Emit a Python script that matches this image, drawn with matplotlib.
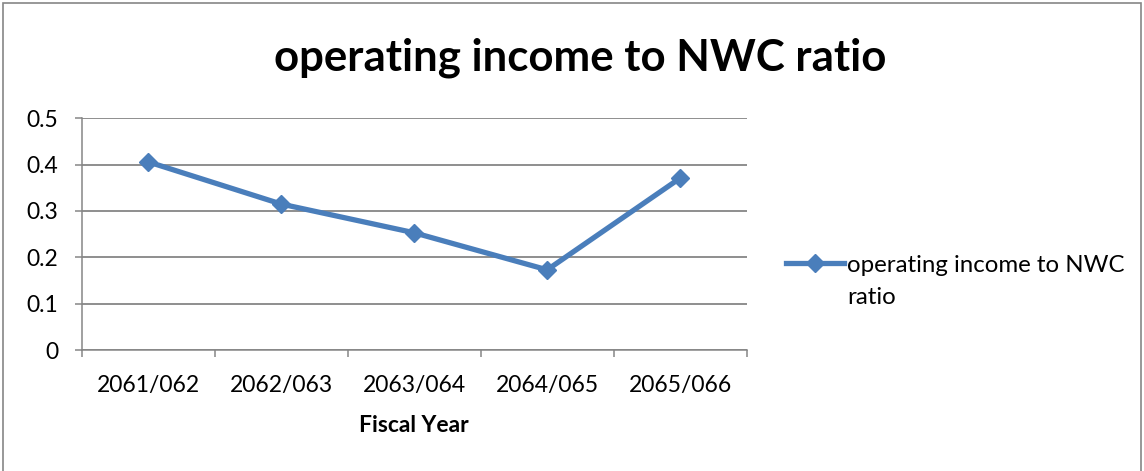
import matplotlib.pyplot as plt
from matplotlib.patches import Rectangle
from matplotlib.lines import Line2D

years = ["2061/062", "2062/063", "2063/064", "2064/065", "2065/066"]
ratio = [0.406, 0.315, 0.253, 0.173, 0.371]
yticks = [0, 0.1, 0.2, 0.3, 0.4, 0.5]

plt.rcParams['font.family'] = ['Lato', 'DejaVu Sans']
blue = '#4A7EBB'
grey = '#868686'
fs = 16.5

fig = plt.figure(figsize=(11.44, 4.71), dpi=100)
ax = fig.add_axes([0.0714, 0.2569, 0.5813, 0.4919])

x = range(len(years))
ax.plot(x, ratio, color=blue, lw=3.8, marker='D', ms=9.5, mec=blue, mfc=blue,
        solid_capstyle='round', zorder=3)

ax.set_xlim(-0.5, len(years) - 0.5)
ax.set_ylim(0, 0.5)
ax.set_yticks(yticks)
ax.set_yticklabels([f"{v:g}" for v in yticks])
ax.set_xticks(list(x))
ax.set_xticklabels(years)
ax.set_xticks([i - 0.5 for i in range(len(years) + 1)], minor=True)
ax.tick_params(axis='x', which='major', length=0, pad=18, labelsize=fs)
ax.tick_params(axis='x', which='minor', length=5, width=1.1, color=grey)
ax.tick_params(axis='y', length=5, width=1.1, color=grey, pad=12, labelsize=fs)

ax.grid(axis='y', color=grey, lw=1.3)
ax.set_axisbelow(True)
for side in ('top', 'right'):
    ax.spines[side].set_visible(False)
for side in ('left', 'bottom'):
    ax.spines[side].set_color(grey)
    ax.spines[side].set_linewidth(1.1)

ax.set_xlabel("Fiscal Year", fontsize=fs, fontweight='bold', labelpad=14)
fig.text(0.507, 0.877, "operating income to NWC ratio", ha='center', va='center',
         fontsize=31.5, fontweight='bold')

# legend: handle sits on the first line of the wrapped label
handle = Line2D([], [], color=blue, lw=3.8, marker='D', ms=9.5, mec=blue, mfc=blue)
leg = fig.legend([handle], ["operating income to NWC"], loc='center left',
                 bbox_to_anchor=(0.687, 0.437), frameon=False, fontsize=17.3,
                 handlelength=2.4, handletextpad=0.15, borderpad=0, borderaxespad=0)
fig.canvas.draw()
tb = leg.get_texts()[0].get_window_extent()
fig.text(tb.x0 / fig.bbox.width, (tb.y0 - 32) / fig.bbox.height, "ratio",
         fontsize=17.3, va='bottom', ha='left')

fig.patches.append(Rectangle((3 / 1144, -0.05), 1138 / 1144, 1.05 - 3 / 471,
                             transform=fig.transFigure, fill=False,
                             edgecolor=grey, lw=1.2))

fig.savefig("out.png", dpi=100)
